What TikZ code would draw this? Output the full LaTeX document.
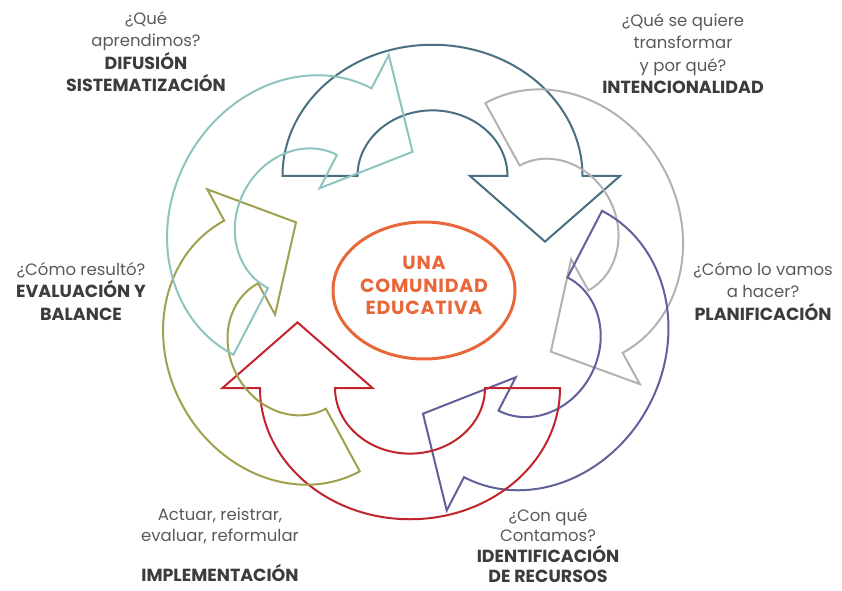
\documentclass[tikz,border=0pt]{standalone}
\usepackage{fontspec}
\setmainfont{Poppins}
\usetikzlibrary{shapes.geometric}

\definecolor{tealosc}{RGB}{72,112,128}
\definecolor{grisflecha}{RGB}{178,178,178}
\definecolor{morado}{RGB}{96,96,154}
\definecolor{rojo}{RGB}{192,36,44}
\definecolor{oliva}{RGB}{160,160,78}
\definecolor{tealcla}{RGB}{142,196,192}
\definecolor{naranja}{RGB}{232,104,58}
\definecolor{textogris}{RGB}{90,90,90}
\definecolor{textoosc}{RGB}{60,60,60}

\tikzset{
	flecha/.style={line width=2pt, line join=miter},
	pregunta/.style={anchor=north, align=center, inner sep=0pt, text=textogris,
		font=\fontsize{16.5}{22.5}\selectfont},
}
\newcommand{\etapa}[1]{{\fontsize{17.5}{22.5}\selectfont\bfseries\color{textoosc}#1}}

\begin{document}
\begin{tikzpicture}[x=1pt, y=1pt]
		\useasboundingbox ( 0, 0 ) rectangle ( 842, 590 );

		% flecha ( intencionalidad )
		\draw [flecha, tealosc, shift={( 432.5, 414 )}, rotate=0, yscale=0.875]
			( -150, 0 ) arc [start angle=180, end angle=0, radius=150] -- ( 187.5, 0 ) -- ( 112.5, -75 )
			-- ( 37.5, 0 ) -- ( 75, 0 ) arc [start angle=0, end angle=180, radius=75] -- cycle;

		% flecha ( planificacion )
		\draw [flecha, grisflecha, shift={( 554, 362 )}, rotate=-61.2, yscale=0.875, scale=0.95]
			( -150, 0 ) arc [start angle=180, end angle=0, radius=150] -- ( 187.5, 0 ) -- ( 112.5, -75 )
			-- ( 37.5, 0 ) -- ( 75, 0 ) arc [start angle=0, end angle=180, radius=75] -- cycle;

		% flecha ( recursos )
		\draw [flecha, morado, shift={( 533, 246 )}, rotate=-117.4, yscale=0.875]
			( -150, 0 ) arc [start angle=180, end angle=0, radius=150] -- ( 187.5, 0 ) -- ( 112.5, -75 )
			-- ( 37.5, 0 ) -- ( 75, 0 ) arc [start angle=0, end angle=180, radius=75] -- cycle;

		% flecha ( implementacion )
		\draw [flecha, rojo, shift={( 410, 202 )}, rotate=180, yscale=0.875]
			( -150, 0 ) arc [start angle=180, end angle=0, radius=150] -- ( 187.5, 0 ) -- ( 112.5, -75 )
			-- ( 37.5, 0 ) -- ( 75, 0 ) arc [start angle=0, end angle=180, radius=75] -- cycle;

		% flecha ( evaluacion )
		\draw [flecha, oliva, shift={( 292, 244 )}, rotate=118.4, yscale=0.875, scale=0.95]
			( -150, 0 ) arc [start angle=180, end angle=0, radius=150] -- ( 187.5, 0 ) -- ( 112.5, -75 )
			-- ( 37.5, 0 ) -- ( 75, 0 ) arc [start angle=0, end angle=180, radius=75] -- cycle;

		% flecha ( difusion )
		\draw [flecha, tealcla, shift={( 302.5, 368.5 )}, rotate=62.6, yscale=0.875]
			( -150, 0 ) arc [start angle=180, end angle=0, radius=150] -- ( 187.5, 0 ) -- ( 112.5, -75 )
			-- ( 37.5, 0 ) -- ( 75, 0 ) arc [start angle=0, end angle=180, radius=75] -- cycle;

		% centro
		\node [ellipse, draw=naranja, line width=3pt, minimum width=182, minimum height=137,
			inner sep=0pt] (centro) at ( 424, 299.5 ) {};
		\node [align=center, inner sep=0pt, text=naranja,
			font=\bfseries\fontsize{19}{22.5}\selectfont\addfontfeature{LetterSpace=4}]
			(lema) at ( 424, 304.5 ) {UNA\\COMUNIDAD\\EDUCATIVA};

		% etiquetas
		\node [pregunta] (difusion) at ( 146, 579 )
			{¿Qué\\aprendimos?\\\etapa{DIFUSIÓN}\\\etapa{SISTEMATIZACIÓN}};
		\node [pregunta] (intencion) at ( 683, 577 )
			{¿Qué se quiere\\transformar\\y por qué?\\\etapa{INTENCIONALIDAD}};
		\node [pregunta] (planif) at ( 763, 328 )
			{¿Cómo lo vamos\\a hacer?\\\etapa{PLANIFICACIÓN}};
		\node [pregunta] (evalua) at ( 81, 328 )
			{¿Cómo resultó?\\\etapa{EVALUACIÓN Y}\\\etapa{BALANCE}};
		\node [pregunta, font=\fontsize{16.5}{21}\selectfont] (implementa) at ( 220, 82 )
			{Actuar, reistrar,\\evaluar, reformular\\[19pt]\etapa{IMPLEMENTACIÓN}};
		\node [pregunta, font=\fontsize{16.5}{20.5}\selectfont] (recursos) at ( 548, 82 )
			{¿Con qué\\Contamos?\\\etapa{IDENTIFICACIÓN}\\\etapa{DE RECURSOS}};
	\end{tikzpicture}
\end{document}
